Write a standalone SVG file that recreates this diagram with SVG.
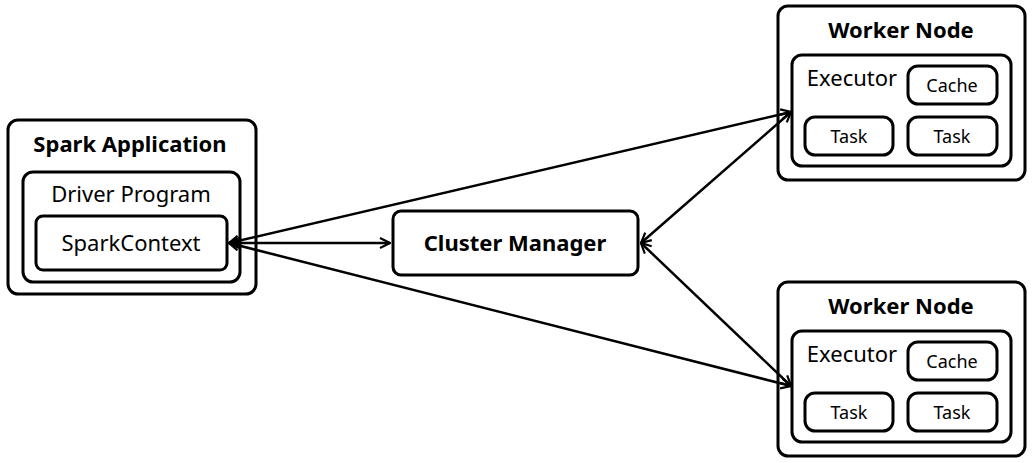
<svg xmlns="http://www.w3.org/2000/svg" width="1033" height="463" viewBox="0 0 1033 463">
<style>
rect{fill:#fff;stroke:#000;stroke-width:3}
text{font-family:"Noto Sans","Open Sans",sans-serif;fill:#000;text-anchor:middle}
.b{font-weight:bold;font-size:22px}
.m{font-size:22px}
.s{font-size:18px}
.c line{stroke:#000;stroke-width:2.5;marker-start:url(#a);marker-end:url(#a)}
</style>
<defs>
<marker id="a" viewBox="0 0 12 12" refX="11" refY="6" markerWidth="12" markerHeight="12" markerUnits="userSpaceOnUse" orient="auto-start-reverse">
<path d="M1,1 L11,6 L1,11" fill="none" stroke="#000" stroke-width="2.2"/>
</marker>
</defs>
<g id="spark-app">
<rect x="8" y="120" width="248" height="174" rx="10"/>
<text class="b" x="130" y="152">Spark Application</text>
<rect x="23" y="172" width="217" height="110" rx="10"/>
<text class="m" x="131" y="202">Driver Program</text>
<rect x="36" y="216" width="191" height="54" rx="7"/>
<text class="m" x="131" y="251">SparkContext</text>
</g>
<g id="cluster-manager">
<rect x="393" y="211" width="245" height="64" rx="8"/>
<text class="b" x="515" y="251">Cluster Manager</text>
</g>
<g id="worker1">
<rect x="778" y="6" width="247" height="174" rx="10"/>
<text class="b" x="901" y="38">Worker Node</text>
<rect x="792" y="55" width="219" height="111" rx="10"/>
<text class="m" x="852" y="86">Executor</text>
<rect x="908" y="66" width="89" height="38" rx="10"/>
<text class="s" x="952" y="92">Cache</text>
<rect x="805" y="117" width="88" height="38" rx="10"/>
<text class="s" x="849" y="143">Task</text>
<rect x="908" y="117" width="89" height="38" rx="10"/>
<text class="s" x="952" y="143">Task</text>
</g>
<g id="worker2">
<rect x="778" y="282" width="247" height="174" rx="10"/>
<text class="b" x="901" y="314">Worker Node</text>
<rect x="792" y="331" width="219" height="111" rx="10"/>
<text class="m" x="852" y="362">Executor</text>
<rect x="908" y="342" width="89" height="38" rx="10"/>
<text class="s" x="952" y="368">Cache</text>
<rect x="805" y="393" width="88" height="38" rx="10"/>
<text class="s" x="849" y="419">Task</text>
<rect x="908" y="393" width="89" height="38" rx="10"/>
<text class="s" x="952" y="419">Task</text>
</g>
<g class="c">
<line x1="229" y1="243" x2="390" y2="243"/>
<line x1="229" y1="243" x2="791" y2="112"/>
<line x1="229" y1="243" x2="791" y2="386"/>
<line x1="641" y1="243" x2="791" y2="112"/>
<line x1="641" y1="243" x2="791" y2="386"/>
</g>
</svg>
